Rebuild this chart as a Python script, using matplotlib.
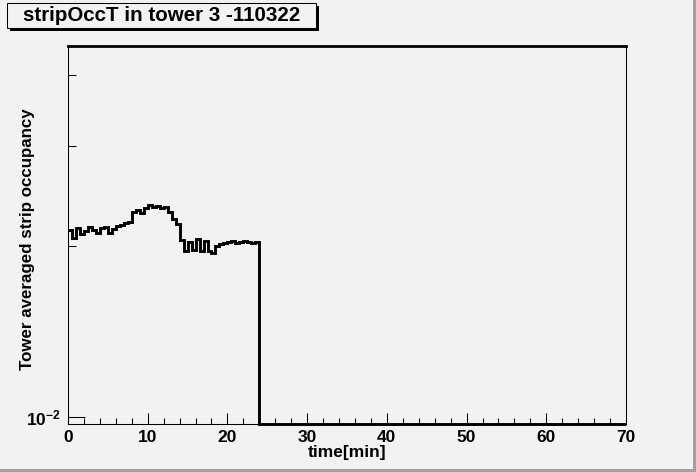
import numpy as np
import matplotlib
matplotlib.use("Agg")
import matplotlib.pyplot as plt
from matplotlib.ticker import FixedLocator, MultipleLocator, NullFormatter, FixedFormatter
from matplotlib.patches import Rectangle

plt.rcParams['font.family'] = ['Liberation Sans', 'DejaVu Sans']
plt.rcParams['font.weight'] = 'bold'
plt.rcParams['axes.unicode_minus'] = False
plt.rcParams['mathtext.fontset'] = 'custom'
plt.rcParams['mathtext.bf'] = 'Liberation Sans:bold'
plt.rcParams['mathtext.rm'] = 'Liberation Sans:bold'

# time binning (0.5 min bins from 0 to 70 min)
bin_width = 0.5
t_max = 70
# tower averaged strip occupancy, first 24 min (48 bins)
occ_early = [0.02134, 0.02070, 0.02150, 0.02100, 0.02126, 0.02160, 0.02130, 0.02105,
             0.02150, 0.02160, 0.02105, 0.02145, 0.02165, 0.02180, 0.02196, 0.02204,
             0.02300, 0.02314, 0.02290, 0.02333, 0.02365, 0.02340, 0.02355, 0.02330,
             0.02345, 0.02296, 0.02232, 0.02187, 0.02049, 0.01960, 0.02030, 0.01968,
             0.02055, 0.01960, 0.02040, 0.01960, 0.01945, 0.02000, 0.02016, 0.02025,
             0.02033, 0.02041, 0.02025, 0.02033, 0.02041, 0.02033, 0.02025, 0.02033]
# empty bins after 24 min
occ_late = [0.0] * 92

title = "stripOccT in tower 3 -110322"
xlabel = "time[min]"
ylabel = "Tower averaged strip occupancy"

ymin, ymax = 0.00972, 0.045

bg = "#f2f2f2"
fig = plt.figure(figsize=(6.96, 4.72), dpi=100, facecolor=bg)
ax = fig.add_axes([68 / 696, 48 / 472, 558 / 696, 378 / 472])
ax.set_facecolor(bg)

occ = np.array(occ_early + occ_late)
edges = np.arange(0, t_max + bin_width / 2, bin_width)
shown = np.where(occ > 0, occ, ymin)
ax.set_yscale("log")
ax.stairs(shown, edges, color="black", lw=2.1, clip_on=False, baseline=None)

ax.set_xlim(0, t_max)
ax.set_ylim(ymin, ymax)

ax.xaxis.set_major_locator(MultipleLocator(10))
ax.xaxis.set_minor_locator(MultipleLocator(2))
ax.yaxis.set_major_locator(FixedLocator([0.01]))
ax.yaxis.set_major_formatter(FixedFormatter([r"$\mathbf{10^{-2}}$"]))
ax.yaxis.set_minor_locator(FixedLocator([0.02, 0.03, 0.04]))
ax.yaxis.set_minor_formatter(NullFormatter())

ax.tick_params(axis="x", which="major", direction="in", length=8.2, width=0.75,
               labelsize=12.5, pad=4)
ax.tick_params(axis="x", which="minor", direction="in", length=4.1, width=0.75)
ax.tick_params(axis="y", which="major", direction="in", length=12, width=0.75,
               labelsize=12.5, pad=5)
ax.tick_params(axis="y", which="minor", direction="in", length=6, width=0.75)

for s in ["left", "right", "bottom"]:
    ax.spines[s].set_linewidth(0.75)
ax.spines["top"].set_linewidth(2.0)

ax.set_xlabel(xlabel, fontsize=12.5, fontweight="bold")
ax.xaxis.set_label_coords(0.5, -0.056)
ax.set_ylabel(ylabel, fontsize=12.2, fontweight="bold")
ax.yaxis.set_label_coords(-0.059, 0.488)

# title box with shadow
W, H = 696, 472
fig.patches.append(Rectangle((10 / W, (H - 31) / H), 309 / W, 25 / H,
                             transform=fig.transFigure, facecolor="black",
                             edgecolor="none", zorder=1))
fig.patches.append(Rectangle((7 / W, (H - 28) / H), 309 / W, 25 / H,
                             transform=fig.transFigure, facecolor=bg,
                             edgecolor="black", lw=0.75, zorder=2))
fig.text(161.5 / W, (H - 15.5) / H, title, fontsize=14.8, fontweight="bold",
         ha="center", va="center", zorder=3)

# canvas bevel
fig.patches.append(Rectangle((0, 0), 1, 3 / H, transform=fig.transFigure,
                             facecolor="#a0a0a0", edgecolor="none"))
fig.patches.append(Rectangle((1 - 3 / W, 0), 3 / W, 1, transform=fig.transFigure,
                             facecolor="#a0a0a0", edgecolor="none"))

fig.savefig("out.png", dpi=100, facecolor=bg)
